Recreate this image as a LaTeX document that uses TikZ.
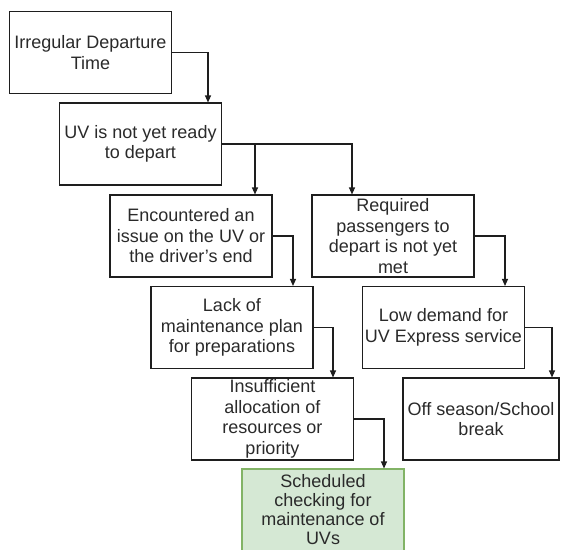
\documentclass[tikz,border=0pt]{standalone}
\usepackage{fontspec}
\setmainfont{Liberation Sans}
\usetikzlibrary{arrows.meta}
\definecolor{lineC}{HTML}{1E1E1E}
\definecolor{txtC}{HTML}{2A2A2A}
\definecolor{greenF}{HTML}{D5E8D4}
\definecolor{greenB}{HTML}{82B366}
\begin{document}
\begin{tikzpicture}[x=1pt,y=-1pt,
  box/.style={draw=lineC,line width=1.1pt,rectangle,minimum width=#1,minimum height=82pt,
    inner sep=0pt,align=center,text=txtC,
    font=\fontsize{18}{20.5}\selectfont},
  box/.default=162pt,
  arr/.style={draw=lineC,line width=1.1pt,-{Triangle[width=6pt,length=7pt]}}]
\useasboundingbox (0,0) rectangle (562,549);
\node[box] (b1) at (90.5,52.5) {Irregular Departure\\Time};
\node[box] (b2) at (140.5,144) {UV is not yet ready\\to depart};
\node[box] (b3) at (191,236) {Encountered an\\issue on the UV or\\the driver's end};
\node[box] (b4) at (393,236) {Required\\passengers to\\depart is not yet\\met};
\node[box] (b5) at (232,327.5) {Lack of\\maintenance plan\\for preparations};
\node[box] (b6) at (443.5,327.5) {Low demand for\\UV Express service};
\node[box] (b7) at (272.5,419) {Insufficient\\allocation of\\resources or\\priority};
\node[box=156pt] (b8) at (481,419) {Off season/School\\break};
\node[box,fill=greenF,draw=greenB,font=\fontsize{18}{19}\selectfont] (b9) at (323,510) {Scheduled\\checking for\\maintenance of\\UVs};
\draw[arr] (b1.east) -| ([xshift=67.5pt]b2.north);
\draw[arr] (b2.east) -| ([xshift=-41pt]b4.north);
\coordinate (br) at ([xshift=64pt]b3.north |- b2.east);
\draw[arr] (br) -- ([xshift=64pt]b3.north);
\draw[arr] (b3.east) -| ([xshift=61pt]b5.north);
\draw[arr] (b4.east) -| ([xshift=61.5pt]b6.north);
\draw[arr] (b5.east) -| ([xshift=60.5pt]b7.north);
\draw[arr] (b6.east) -| ([xshift=71pt]b8.north);
\draw[arr] (b7.east) -| ([xshift=61pt]b9.north);
\end{tikzpicture}
\end{document}
